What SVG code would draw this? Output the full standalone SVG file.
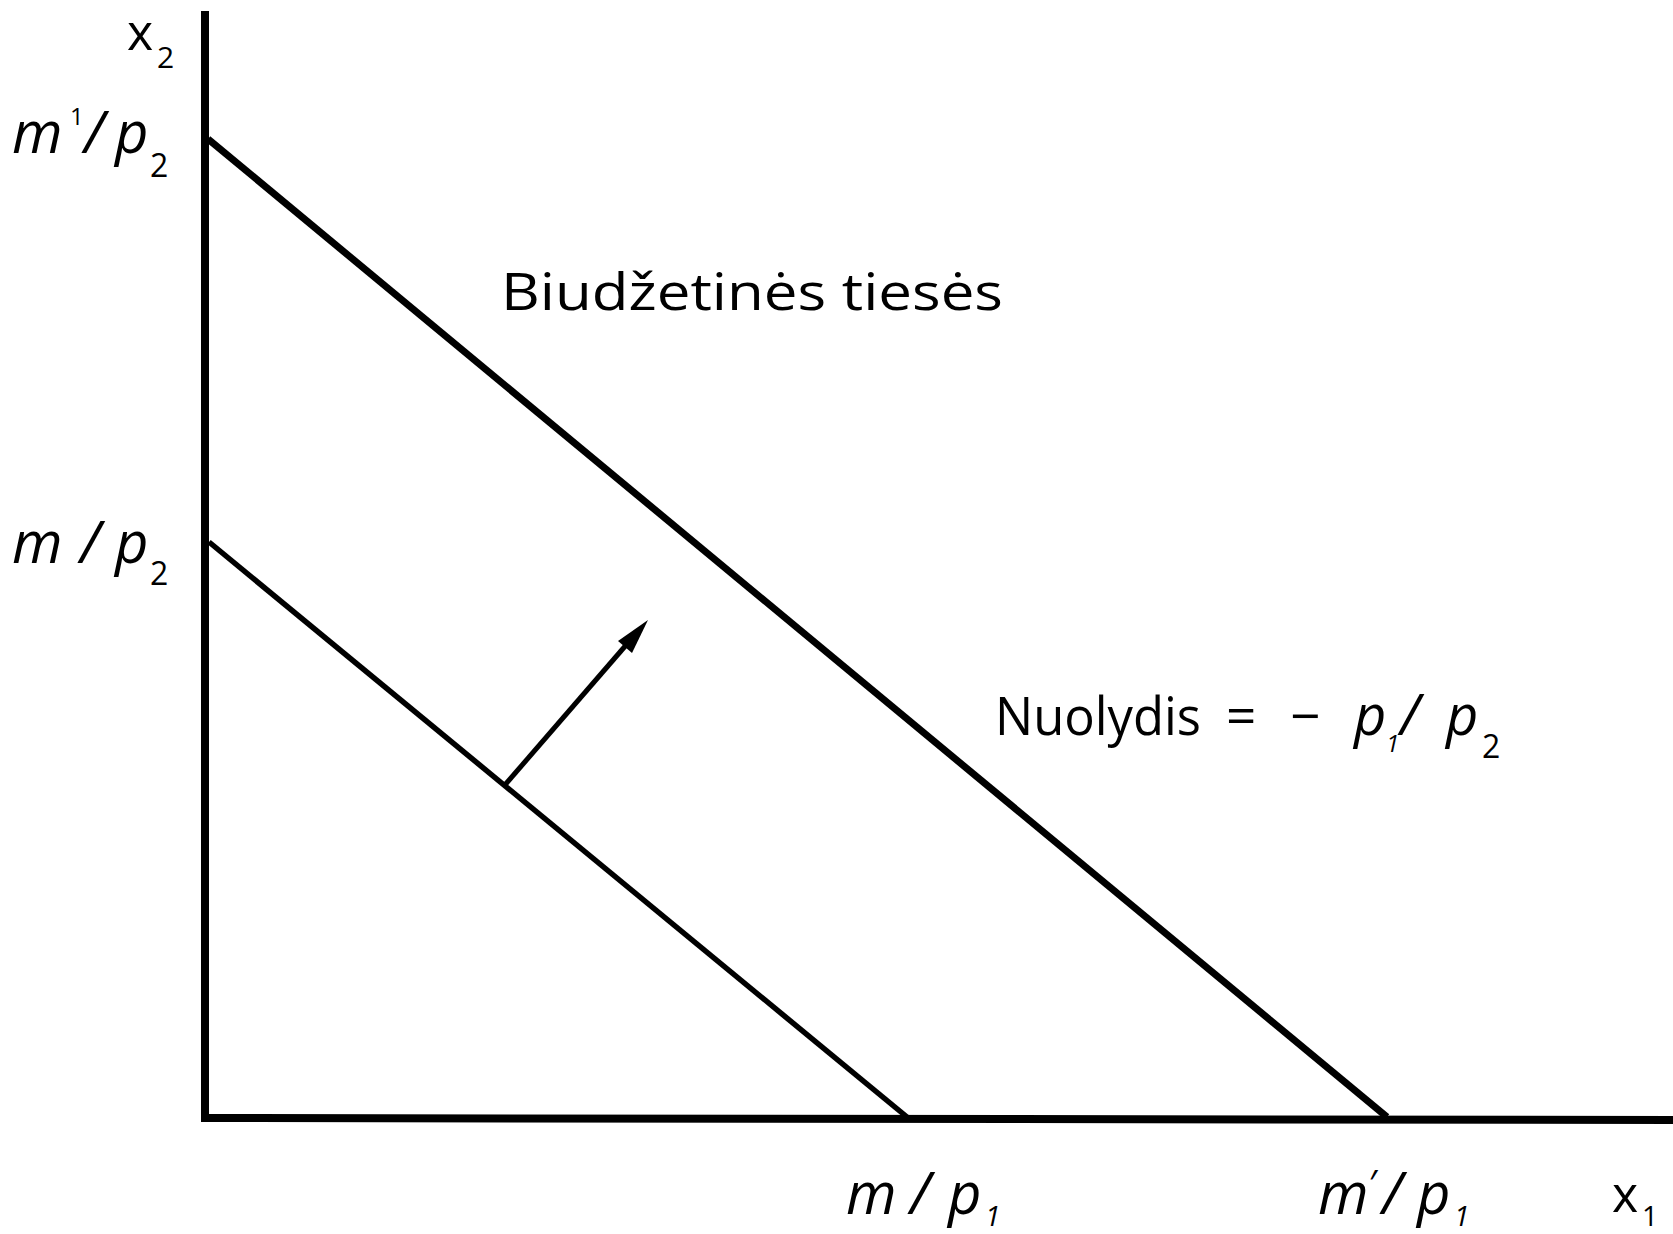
<svg xmlns="http://www.w3.org/2000/svg" width="1673" height="1234" viewBox="0 0 1673 1234">
<style>
.lbl{font-family:"Open Sans","Liberation Sans",sans-serif;fill:#000;}
.it{font-style:italic;}
.ax{stroke:#000;stroke-width:8;fill:none;}
.bl{stroke:#000;fill:none;stroke-linecap:butt;}
</style>
<rect width="1673" height="1234" fill="#fff"/>
<g id="axes">
<line class="ax" x1="205" y1="11" x2="205" y2="1122"/>
<line class="ax" x1="201" y1="1118" x2="1673" y2="1120"/>
</g>
<g id="connectors">
<line class="bl" stroke-width="7" x1="208" y1="139" x2="1387" y2="1117"/>
<line class="bl" stroke-width="5.5" x1="209" y1="542" x2="907" y2="1117"/>
<line class="bl" stroke-width="5" x1="504" y1="786" x2="627" y2="644"/>
<polygon points="648,620 632,653 618,641" fill="#000"/>
</g>
<g id="label-x2">
<text class="lbl" x="127" y="50" font-size="50">x</text>
<text class="lbl" x="157" y="68" font-size="30">2</text>
</g>
<g id="label-m1p2">
<text class="lbl it" x="12" y="153" font-size="58">m</text>
<text class="lbl" x="70" y="125" font-size="24">1</text>
<text class="lbl it" x="84" y="153" font-size="58">/</text>
<text class="lbl it" x="115" y="153" font-size="58">p</text>
<text class="lbl" x="150" y="177" font-size="32">2</text>
</g>
<g id="label-mp2">
<text class="lbl it" x="12" y="563" font-size="58">m</text>
<text class="lbl it" x="80" y="563" font-size="58">/</text>
<text class="lbl it" x="115" y="563" font-size="58">p</text>
<text class="lbl" x="150" y="585" font-size="32">2</text>
</g>
<g id="label-budget">
<text class="lbl" x="501" y="310" font-size="52" textLength="502" lengthAdjust="spacingAndGlyphs">Biudžetinės tiesės</text>
</g>
<g id="label-slope">
<text class="lbl" x="995" y="735" font-size="53" textLength="206" lengthAdjust="spacingAndGlyphs">Nuolydis</text>
<text class="lbl" x="1226" y="735" font-size="53">=</text>
<text class="lbl" x="1290" y="735" font-size="53">−</text>
<text class="lbl it" x="1354" y="735" font-size="56">p</text>
<text class="lbl it" x="1386" y="752" font-size="24">1</text>
<text class="lbl it" x="1400" y="735" font-size="56">/</text>
<text class="lbl it" x="1446" y="735" font-size="56">p</text>
<text class="lbl" x="1482" y="758" font-size="32">2</text>
</g>
<g id="label-mp1">
<text class="lbl it" x="846" y="1214" font-size="58">m</text>
<text class="lbl it" x="910" y="1214" font-size="58">/</text>
<text class="lbl it" x="948" y="1214" font-size="58">p</text>
<text class="lbl it" x="985" y="1226" font-size="28">1</text>
</g>
<g id="label-m1p1">
<text class="lbl it" x="1318" y="1214" font-size="58">m</text>
<text class="lbl it" x="1368" y="1196" font-size="36">′</text>
<text class="lbl it" x="1382" y="1214" font-size="58">/</text>
<text class="lbl it" x="1417" y="1214" font-size="58">p</text>
<text class="lbl it" x="1454" y="1226" font-size="28">1</text>
</g>
<g id="label-x1">
<text class="lbl" x="1612" y="1212" font-size="50">x</text>
<text class="lbl" x="1642" y="1226" font-size="28">1</text>
</g>
</svg>
